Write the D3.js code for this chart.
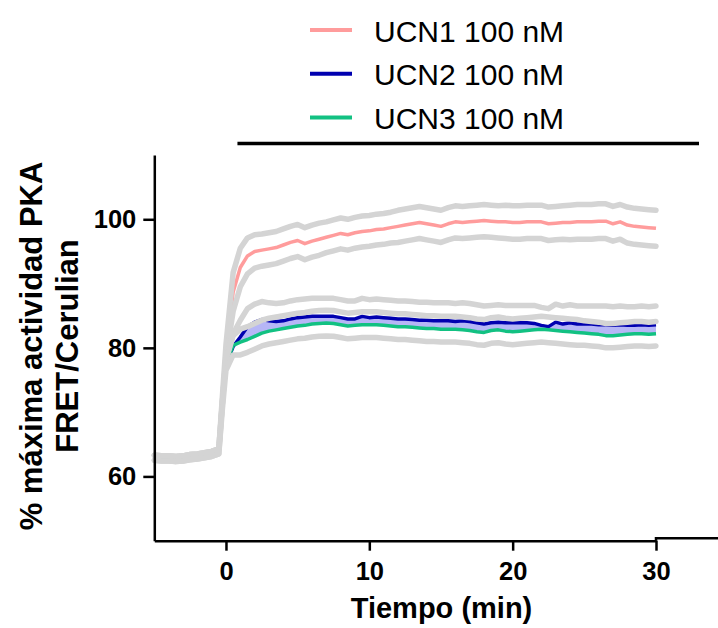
<!DOCTYPE html>
<html>
<head>
<meta charset="utf-8">
<script src="https://cdn.jsdelivr.net/npm/d3@7"></script>
<style>
  body { margin: 0; background: #fff; }
  svg { font-family: "Liberation Sans", Arial, sans-serif; }
</style>
</head>
<body>
<div id="chart"></div>
<script>
// PKA activity (FRET/Cerulian) after UCN1/2/3 100 nM

const times = [-5, -4.5, -4, -3.5, -3, -2.5, -2, -1.5, -1, -0.5, -0.25,
    0, 0.5, 1, 1.5, 2, 2.5, 3, 3.5, 4, 4.5, 5, 5.5, 6, 6.5, 7, 7.5, 8, 8.5, 9, 9.5,
    10, 10.5, 11, 11.5, 12, 12.5, 13, 13.5, 14, 14.5, 15, 15.5, 16, 16.5, 17, 17.5, 18, 18.5, 19, 19.5,
    20, 20.5, 21, 21.5, 22, 22.5, 23, 23.5, 24, 24.5, 25, 25.5, 26, 26.5, 27, 27.5, 28, 28.5, 29, 29.5, 30];

const ucn1 = [62.9, 62.8, 62.8, 62.7, 62.8, 63.0, 63.1, 63.3, 63.5, 63.9, 72.0,
    79.5, 88.7, 92.5, 94.3, 95.0, 95.2, 95.4, 95.6, 96.0, 96.4, 96.7, 96.2, 96.6, 96.9, 97.2, 97.5, 97.8, 97.6, 97.9, 98.1,
    98.2, 98.4, 98.5, 98.7, 98.9, 99.1, 99.3, 99.5, 99.3, 99.1, 98.9, 99.3, 99.6, 99.5, 99.6, 99.7, 99.8, 99.7, 99.6, 99.6,
    99.5, 99.5, 99.6, 99.6, 99.6, 99.3, 99.4, 99.5, 99.5, 99.6, 99.6, 99.6, 99.7, 99.7, 99.3, 99.6, 99.1, 98.9, 98.8, 98.7, 98.6];
const sem1 = [0.4, 0.4, 0.4, 0.4, 0.4, 0.4, 0.4, 0.4, 0.4, 0.4, 0.5,
    1.0, 3.0, 3.0, 2.8, 2.6, 2.5, 2.5, 2.5, 2.5, 2.5, 2.5, 2.5, 2.5, 2.5, 2.4, 2.4, 2.4, 2.4, 2.4, 2.4,
    2.4, 2.4, 2.4, 2.4, 2.5, 2.5, 2.5, 2.5, 2.5, 2.5, 2.5, 2.5, 2.5, 2.5, 2.5, 2.5, 2.5, 2.5, 2.5, 2.6,
    2.6, 2.6, 2.6, 2.6, 2.6, 2.6, 2.6, 2.6, 2.7, 2.7, 2.7, 2.7, 2.7, 2.7, 2.7, 2.7, 2.8, 2.8, 2.8, 2.8, 2.8];

const ucn2 = [62.9, 62.8, 62.8, 62.7, 62.8, 63.0, 63.1, 63.3, 63.5, 63.9, 71.0,
    77.4, 80.2, 81.7, 83.3, 84.0, 84.4, 84.2, 84.1, 84.2, 84.5, 84.7, 84.8, 84.9, 84.9, 84.9, 84.9, 84.7, 84.5, 84.5, 84.9,
    84.7, 84.8, 84.7, 84.6, 84.5, 84.5, 84.4, 84.3, 84.3, 84.2, 84.2, 84.2, 84.1, 84.2, 84.1, 83.9, 83.7, 83.9, 84.0, 83.9,
    83.9, 83.9, 83.9, 83.8, 83.5, 83.3, 84.0, 83.7, 83.9, 83.7, 83.7, 83.7, 83.6, 83.6, 83.5, 83.6, 83.5, 83.5, 83.6, 83.5, 83.6];
const sem2 = [0.4, 0.4, 0.4, 0.4, 0.4, 0.4, 0.4, 0.4, 0.4, 0.4, 0.5,
    0.8, 2.0, 2.6, 2.8, 2.8, 2.8, 2.8, 2.8, 2.8, 2.8, 2.8, 2.8, 2.8, 2.8, 2.8, 2.8, 2.8, 2.8, 2.8, 2.8,
    2.8, 2.8, 2.8, 2.8, 2.8, 2.8, 2.8, 2.8, 2.8, 2.8, 2.8, 2.8, 2.8, 2.8, 2.8, 2.8, 2.8, 2.7, 2.7, 2.7,
    2.7, 2.7, 2.7, 2.8, 2.8, 2.8, 2.8, 2.8, 2.8, 2.8, 2.8, 2.8, 2.9, 2.9, 2.9, 2.9, 2.9, 2.9, 2.9, 2.9, 2.9];

const ucn3 = [62.9, 62.8, 62.8, 62.7, 62.8, 63.0, 63.1, 63.3, 63.5, 63.9, 71.0,
    77.3, 80.4, 80.9, 81.3, 81.8, 82.3, 82.6, 82.8, 83.0, 83.2, 83.4, 83.5, 83.7, 83.8, 83.85, 83.8, 83.6, 83.4, 83.5, 83.6,
    83.6, 83.6, 83.5, 83.4, 83.3, 83.3, 83.2, 83.1, 83.0, 83.0, 82.9, 82.9, 82.9, 82.8, 82.7, 82.5, 82.4, 82.7, 82.8, 82.6,
    82.5, 82.6, 82.7, 82.8, 82.9, 82.8, 82.7, 82.6, 82.5, 82.4, 82.3, 82.2, 82.1, 81.9, 81.9, 82.0, 82.1, 82.2, 82.2, 82.1, 82.2];
const sem3 = [0.4, 0.4, 0.4, 0.4, 0.4, 0.4, 0.4, 0.4, 0.4, 0.4, 0.5,
    0.8, 1.5, 2.0, 2.0, 2.0, 2.0, 2.0, 2.0, 2.0, 2.0, 2.0, 2.0, 2.0, 2.0, 2.0, 2.0, 2.0, 2.0, 2.0, 2.0,
    2.0, 2.0, 2.0, 2.0, 2.0, 2.0, 2.0, 2.0, 2.0, 2.0, 2.0, 2.0, 2.0, 2.0, 2.0, 2.0, 2.0, 2.0, 2.0, 2.0,
    2.0, 2.0, 2.0, 2.0, 2.0, 2.0, 2.0, 2.0, 2.0, 2.0, 1.9, 1.9, 1.9, 1.9, 1.9, 1.9, 1.9, 1.9, 1.9, 1.9, 1.9];

const seriesNames = ["UCN1 100 nM", "UCN2 100 nM", "UCN3 100 nM"];
const seriesColors = ["#ff9c9c", "#0000b0", "#12c182"];
const xTicks = [0, 10, 20, 30];
const yTicks = [60, 80, 100];
const treatmentBar = [0.8, 33];
const fillStart = 1;   // blue shading between UCN2 and UCN3 starts here

const width = 718, height = 628;
const greyColor = "#d4d4d4";

const svg = d3.select("#chart")
    .append("svg")
    .attr("width", width)
    .attr("height", height);

const x = d3.scaleLinear().domain([-5, 30]).range([154.3, 656]);
const y = d3.scaleLinear().domain([50, 110]).range([540.7, 155]);

const rows = times.map((t, i) => ({
    t,
    v: [ucn1[i], ucn2[i], ucn3[i]],
    s: [sem1[i], sem2[i], sem3[i]]
}));

//--------------------------------------------------
// shading between UCN2 and UCN3
//--------------------------------------------------
svg.append("path")
    .datum(rows.filter(d => d.t >= fillStart))
    .attr("fill", "#b6b6f6")
    .attr("d", d3.area()
        .x(d => x(d.t))
        .y0(d => y(d.v[2]))
        .y1(d => y(d.v[1])));

//--------------------------------------------------
// mean lines
//--------------------------------------------------
seriesNames.forEach((name, k) => {
    svg.append("path")
        .datum(rows)
        .attr("fill", "none")
        .attr("stroke", seriesColors[k])
        .attr("stroke-width", 3.5)
        .attr("stroke-linejoin", "round")
        .attr("d", d3.line().x(d => x(d.t)).y(d => y(d.v[k])));
});

//--------------------------------------------------
// SEM envelopes (grey, drawn over the means like the original)
// UCN2 lower edge sits under the UCN3 lower edge, so it is left out
//--------------------------------------------------
const envelopes = [[0, 1], [0, -1], [1, 1], [2, 1], [2, -1]];
envelopes.forEach(([k, sign]) => {
    svg.append("path")
        .datum(rows)
        .attr("fill", "none")
        .attr("stroke", greyColor)
        .attr("stroke-width", 5.5)
        .attr("stroke-linejoin", "round")
        .attr("stroke-linecap", "round")
        .attr("d", d3.line().x(d => x(d.t)).y(d => y(d.v[k] + sign * d.s[k])));
});

//--------------------------------------------------
// axes
//--------------------------------------------------
const xAxis = svg.append("g")
    .attr("transform", `translate(0,${y(50)})`)
    .call(d3.axisBottom(x).tickValues(xTicks).tickSize(10).tickSizeOuter(0).tickPadding(11));

const yAxis = svg.append("g")
    .attr("transform", `translate(${x(-5)},0)`)
    .call(d3.axisLeft(y).tickValues(yTicks).tickSize(11).tickSizeOuter(0).tickPadding(7));

[xAxis, yAxis].forEach(ax => {
    ax.selectAll("path, line").attr("stroke", "#000").attr("stroke-width", 2.5);
    ax.selectAll("text")
        .attr("fill", "#000")
        .attr("font-size", "25.5px")
        .attr("font-weight", "bold")
        .attr("font-family", "Liberation Sans, Arial, sans-serif");
});

// second piece of the broken x axis, right of 30
svg.append("path")
    .attr("fill", "none")
    .attr("stroke", "#000")
    .attr("stroke-width", 2.5)
    .attr("d", `M${x(30)},${y(50)}V${y(50) - 2.5}H${width}`);

// treatment bar
svg.append("line")
    .attr("x1", x(treatmentBar[0]))
    .attr("x2", x(treatmentBar[1]))
    .attr("y1", 143.5)
    .attr("y2", 143.5)
    .attr("stroke", "#000")
    .attr("stroke-width", 3.5);

//--------------------------------------------------
// axis titles
//--------------------------------------------------
svg.append("text")
    .attr("x", 441.5)
    .attr("y", 618)
    .attr("text-anchor", "middle")
    .attr("font-size", "29px")
    .attr("font-weight", "bold")
    .text("Tiempo (min)");

const yTitle = svg.append("text")
    .attr("transform", "rotate(-90)")
    .attr("text-anchor", "middle")
    .attr("font-size", "31px")
    .attr("font-weight", "bold");
yTitle.append("tspan").attr("x", -346).attr("y", 41.5).text("% máxima actividad PKA");
yTitle.append("tspan").attr("x", -346).attr("y", 78).text("FRET/Cerulian");

//--------------------------------------------------
// legend
//--------------------------------------------------
const legend = svg.append("g");
seriesNames.forEach((name, k) => {
    const ly = 30 + k * 43.7;
    legend.append("line")
        .attr("x1", 310).attr("x2", 352)
        .attr("y1", ly).attr("y2", ly)
        .attr("stroke", seriesColors[k])
        .attr("stroke-width", 4);
    legend.append("text")
        .attr("x", 374)
        .attr("y", ly + 11.5)
        .attr("font-size", "30px")
        .attr("fill", "#000")
        .text(name);
});
</script>
</body>
</html>
